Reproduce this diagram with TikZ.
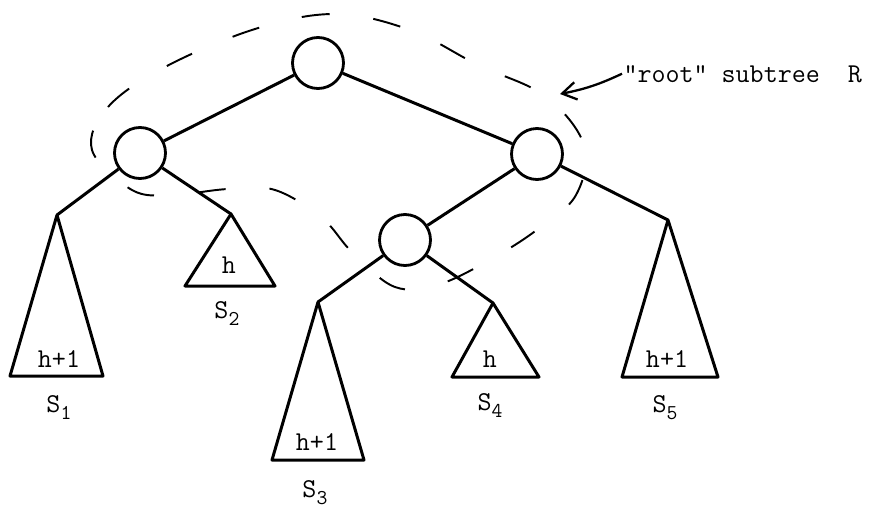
\documentclass[tikz,border=0pt]{standalone}
\usetikzlibrary{arrows.meta}

\newcommand{\lowidx}[1]{\raisebox{-4.5pt}{\fontsize{12}{12}\selectfont #1}}

\tikzset{
  vertex/.style={circle, draw, line width=1.6pt, minimum size=1.02cm, inner sep=0pt},
  tt/.style={font=\fontsize{15.5}{18}\selectfont\ttfamily, inner sep=0pt},
}

\begin{document}
\begin{tikzpicture}[x=0.02cm, y=-0.02cm, line width=1.7pt, line join=round]
    \useasboundingbox (0,0) rectangle (878,514);

    \node[vertex] (root) at (318, 63) {};
    \node[vertex] (left) at (140, 153) {};
    \node[vertex] (right) at (537, 154) {};
    \node[vertex] (mid) at (405, 240) {};

    \coordinate (A1) at (57, 215);
    \coordinate (A2) at (231, 214);
    \coordinate (A3) at (318, 302);
    \coordinate (A4) at (493, 303);
    \coordinate (A5) at (668, 220);

    \draw (root) -- (left);
    \draw (root) -- (right);
    \draw (left) -- (A1);
    \draw (left) -- (A2);
    \draw (right) -- (mid);
    \draw (right) -- (A5);
    \draw (mid) -- (A3);
    \draw (mid) -- (A4);

    \draw (A1) -- (10, 376) -- (103, 376) -- cycle;
    \draw (A2) -- (185, 286) -- (275, 286) -- cycle;
    \draw (A3) -- (272, 460) -- (364, 460) -- cycle;
    \draw (A4) -- (452, 377) -- (539, 377) -- cycle;
    \draw (A5) -- (622, 377) -- (718, 377) -- cycle;

    \node[tt, anchor=base] (h1) at (59, 367) {h+1};
    \node[tt, anchor=base] (h2) at (229, 273) {h};
    \node[tt, anchor=base] (h3) at (317, 450) {h+1};
    \node[tt, anchor=base] (h4) at (490, 367) {h};
    \node[tt, anchor=base] (h5) at (667, 367) {h+1};

    \node[tt, anchor=base west] (s1) at (45, 412) {S\lowidx{1}};
    \node[tt, anchor=base west] (s2) at (213, 318) {S\lowidx{2}};
    \node[tt, anchor=base west] (s3) at (301, 497) {S\lowidx{3}};
    \node[tt, anchor=base west] (s4) at (476, 410) {S\lowidx{4}};
    \node[tt, anchor=base west] (s5) at (651, 412) {S\lowidx{5}};

    % outline of R
    \draw[line width=1.1pt, dash pattern=on 16pt off 25pt] plot[smooth cycle, tension=0.6] coordinates {
      (92,150) (108,107) (165,67) (255,29) (335,14) (410,30) (478,65) (545,96)
      (584,145) (576,195) (538,229) (493,258) (440,284) (395,287) (352,252)
      (322,218) (275,190) (228,189) (172,195) (132,190)};

    \node[tt, anchor=base west] (rlabel) at (622, 82) {"root" subtree\ \ R};
    \coordinate (rtip) at (560, 94);
    \draw[-{Straight Barb[length=8pt, width=10pt]}, line width=1.3pt] (rlabel.west) to[bend left=7] (rtip);
\end{tikzpicture}
\end{document}
